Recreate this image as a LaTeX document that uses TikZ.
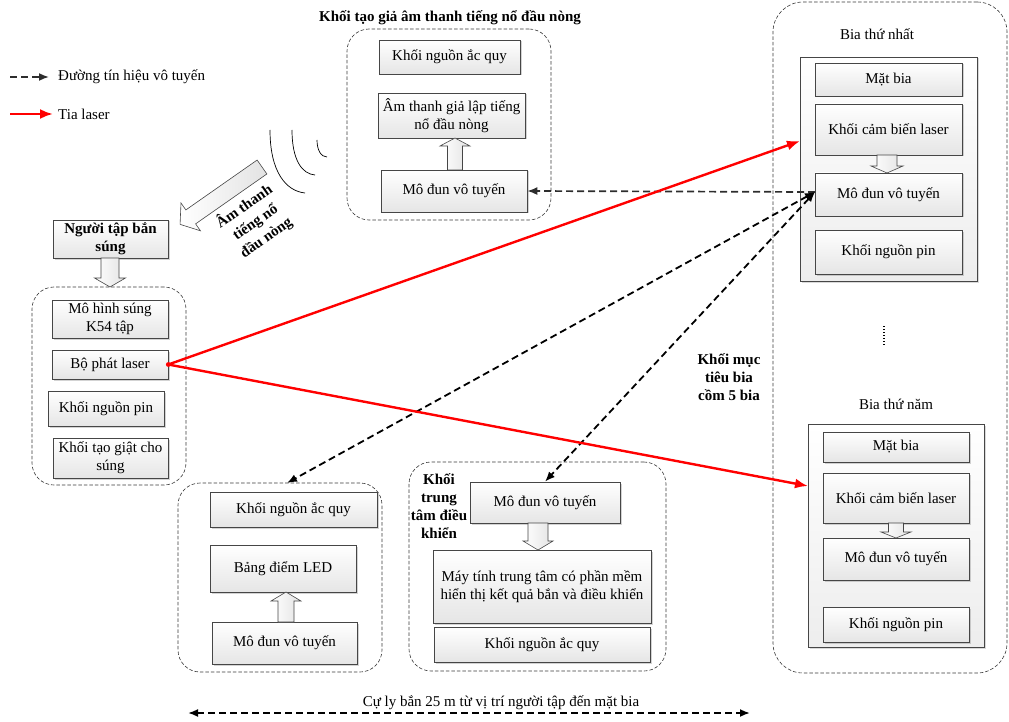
\documentclass[tikz,border=0pt]{standalone}
\usepackage{fontspec}
\setmainfont{Liberation Serif}
\usetikzlibrary{arrows.meta,shadows,calc}
\tikzset{
  fnt/.style={font=\fontsize{15}{18}\selectfont},
  bfnt/.style={font=\bfseries\fontsize{15}{18}\selectfont},
  blk/.style={fnt, draw=gray!55!black, line width=0.6pt, top color=white, bottom color=gray!20,
    drop shadow={shadow xshift=1.5pt, shadow yshift=-1.5pt, opacity=0.35},
    align=center, inner sep=2pt},
  grp/.style={draw=gray!45!black, dash pattern=on 3.5pt off 2pt, line width=0.6pt, rounded corners=22pt, inner sep=0pt},
  bigbox/.style={draw=gray!55!black, line width=0.7pt, top color=white, bottom color=gray!14,
    drop shadow={shadow xshift=1.5pt, shadow yshift=-1.5pt, opacity=0.3}, inner sep=0pt},
  harrowst/.style={draw=gray!55!black, line width=0.6pt, left color=white, right color=gray!22},
  laser/.style={red, line width=2.4pt, -{Latex[length=13pt,width=10pt]}},
  sig/.style={black, line width=1.8pt, dash pattern=on 7pt off 4pt,
    {Latex[length=10pt,width=8pt]}-{Latex[length=10pt,width=8pt]}},
  gsig/.style={gray!35!black, line width=1.7pt, dash pattern=on 7pt off 4pt,
    -{Latex[length=10pt,width=8pt]}},
  lbl/.style={fnt, align=center, inner sep=0pt},
  blbl/.style={bfnt, align=center, inner sep=0pt},
}
\newcommand{\harr}[6]{\begin{scope}[shift={#1},rotate=#2]
  \draw[harrowst] (0,-#4) -- ({#3-#6},-#4) -- ({#3-#6},-#5) -- (#3,0) -- ({#3-#6},#5) -- ({#3-#6},#4) -- (0,#4) -- cycle;
\end{scope}}
\begin{document}
\begin{tikzpicture}[x=1pt,y=-1pt]
\useasboundingbox (0,0) rectangle (1009,722);

% ---------- legend ----------
\node[lbl, anchor=west] (leg1) at (58,77) {Đường tín hiệu vô tuyến};
\node[lbl, anchor=west] (leg2) at (58,114) {Tia laser};
\coordinate (leg1s) at (10,77);
\coordinate (leg2s) at (10,114);
\draw[gsig] (leg1s) -- ([xshift=-9pt]leg1.west);
\draw[laser] (leg2s) -- ([xshift=-5pt]leg2.west);

% ---------- top group ----------
\node[grp, minimum width=204pt, minimum height=191pt] (gtop) at (449,124.5) {};
\node[blbl] (ttop) at (450,18) {Khối tạo giả âm thanh tiếng nổ đầu nòng};
\node[blk, minimum width=141pt, minimum height=34pt] (tq) at (449.5,57) {Khối nguồn ắc quy};
\node[blk, minimum width=147pt, minimum height=45pt] (tam) at (451.5,115.5) {Âm thanh giả lập tiếng\\nổ đầu nòng};
\node[blk, minimum width=146pt, minimum height=42pt] (tmod) at (454,191) {Mô đun vô tuyến};
\harr{(455,170)}{90}{32}{7.5}{15}{8}

% ---------- sound waves ----------
\draw[line width=0.7pt] (270,130) .. controls (270,172) and (286,191) .. (305,193);
\draw[line width=0.7pt] (292,130) .. controls (292,160) and (302,174) .. (315,175);
\draw[line width=0.7pt] (317,140) .. controls (317,150) and (321,157) .. (327,157);
\harr{(262,167)}{215}{100}{8.5}{17}{13}
\node[blbl, rotate=35, font=\bfseries\fontsize{15}{19}\selectfont] (snd) at (255,222) {Âm thanh\\tiếng nổ\\đầu nòng};

% ---------- shooter ----------
\node[blk, bfnt, minimum width=115pt, minimum height=38pt] (ntap) at (110.5,239) {Người tập bắn\\súng};
\harr{(110,258)}{-90}{29}{9}{15.5}{9}
\node[grp, minimum width=154pt, minimum height=198pt] (gleft) at (109,386) {};
\node[blk, minimum width=116pt, minimum height=38pt] (k54) at (110,319) {Mô hình súng\\K54 tập};
\node[blk, minimum width=116pt, minimum height=29pt] (laser) at (110,364.5) {Bộ phát laser};
\node[blk, minimum width=116pt, minimum height=35pt] (lpin) at (106,408.5) {Khối nguồn pin};
\node[blk, minimum width=115pt, minimum height=40pt] (giat) at (110.5,458) {Khối tạo giật cho\\súng};

% ---------- targets ----------
\node[grp, rounded corners=30pt, minimum width=234pt, minimum height=671pt] (gright) at (890,337.5) {};
\node[lbl] (b1t) at (877,34) {Bia thứ nhất};
\node[bigbox, minimum width=177pt, minimum height=224pt] (b1in) at (888.5,169) {};
\node[blk, minimum width=147pt, minimum height=33pt] (mb1) at (888.5,79.5) {Mặt bia};
\node[blk, minimum width=147pt, minimum height=51pt] (cb1) at (888.5,129.5) {Khối cảm biến laser};
\node[blk, minimum width=147pt, minimum height=43pt] (mod1) at (888.5,194.5) {Mô đun vô tuyến};
\node[blk, minimum width=147pt, minimum height=44pt] (pin1) at (888.5,252) {Khối nguồn pin};
\harr{(887,155)}{-90}{18}{10}{16}{7}

\draw[line width=1.4pt, dash pattern=on 1.4pt off 1.6pt] (884,326) -- (884,346);
\node[blbl] (mtb) at (729,377) {Khối mục\\tiêu bia\\cồm 5 bia};

\node[lbl] (b5t) at (896,404) {Bia thứ năm};
\node[bigbox, minimum width=176pt, minimum height=223pt] (b5in) at (896,535.5) {};
\node[blk, minimum width=146pt, minimum height=30pt] (mb5) at (896,447) {Mặt bia};
\node[blk, minimum width=146pt, minimum height=50pt] (cb5) at (896,498) {Khối cảm biến laser};
\node[blk, minimum width=146pt, minimum height=42pt] (mod5) at (896,559) {Mô đun vô tuyến};
\node[blk, minimum width=146pt, minimum height=35pt] (pin5) at (896,624.5) {Khối nguồn pin};
\harr{(896,523)}{-90}{15}{7.5}{15}{6}

% ---------- bottom-left (LED board) ----------
\node[grp, minimum width=204pt, minimum height=189pt] (gled) at (280,577.5) {};
\node[blk, minimum width=167pt, minimum height=35pt] (bq) at (293.5,509.5) {Khối nguồn ắc quy};
\node[blk, minimum width=146pt, minimum height=47pt] (led) at (283,568.5) {Bảng điểm LED};
\node[blk, minimum width=145pt, minimum height=42pt] (bmod) at (284.5,643) {Mô đun vô tuyến};
\harr{(286,622)}{90}{30}{8}{15}{9}

% ---------- bottom-middle (control center) ----------
\node[grp, minimum width=257pt, minimum height=209pt] (gctr) at (537.5,566.5) {};
\node[blbl] (ctrt) at (439,506.5) {Khối\\trung\\tâm điều\\khiển};
\node[blk, minimum width=150pt, minimum height=41pt] (cmod) at (545,502.5) {Mô đun vô tuyến};
\node[blk, minimum width=218pt, minimum height=73pt] (pc) at (542,586.5) {Máy tính trung tâm có phần mềm\\hiển thị kết quả bắn và điều khiển};
\node[blk, minimum width=216pt, minimum height=35pt] (cq) at (542,644.5) {Khối nguồn ắc quy};
\harr{(538,523)}{-90}{27}{10}{15}{9}

% ---------- connectors ----------
\coordinate (hit1) at (800,141);
\coordinate (hit5) at (808,486);
\coordinate (ledtop) at (287,483);
\coordinate (mod1w) at (815,192);
\draw[gsig] (mod1w) -- (tmod.east);
\draw[sig] (mod1w) -- (ledtop);
\draw[sig] (mod1w) -- (cmod.north);
\draw[laser] (laser.east) -- (hit1);
\draw[laser] (laser.east) -- (hit5);
\fill[red] (laser.east) circle (2.4pt);

% ---------- distance ----------
\coordinate (d1) at (188,713);
\coordinate (d2) at (750,713);
\draw[sig] (d1) -- (d2);
\node[lbl] (dist) at (501,703) {Cự ly bắn 25 m từ vị trí người tập đến mặt bia};
\end{tikzpicture}
\end{document}
